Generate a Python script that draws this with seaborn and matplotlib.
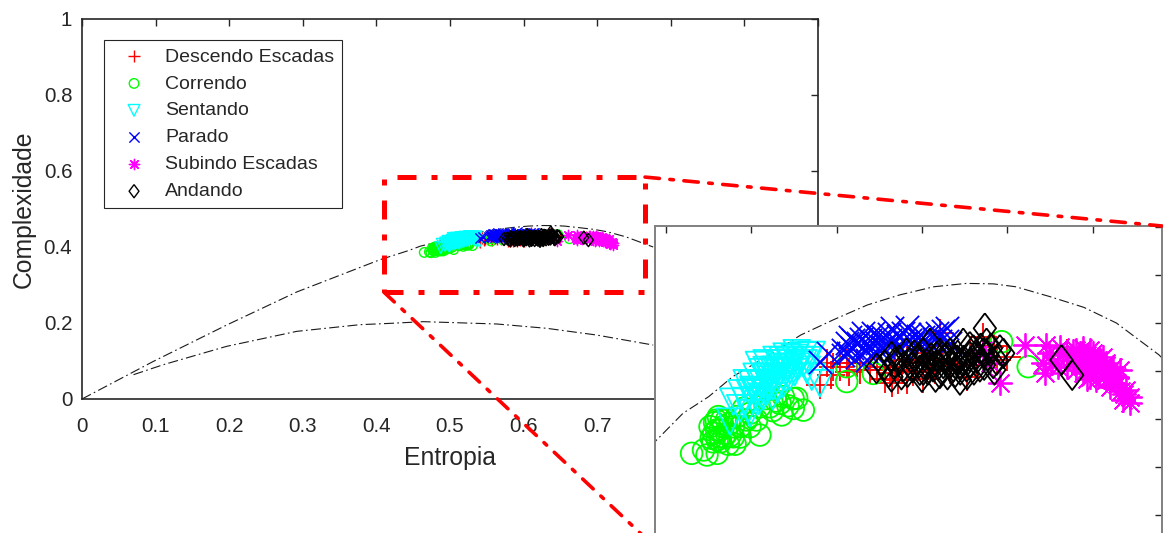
import numpy as np
import seaborn as sns
import matplotlib.pyplot as plt
from matplotlib.patches import Rectangle, ConnectionPatch

# limit curves
upper_x = [0, .097, .1966, .2917, .405, .4436, .46, .475, .489, .509, .529, .548, .568, .587, .607, .626, .642, .655, .675, .695, .714, .739, .776]
upper_y = [0, .099, .1947, .2816, .3667, .3906, .4024, .4093, .4176, .426, .435, .4413, .4475, .4517, .4551, .4565, .4563, .4551, .451, .4465, .44, .4267, .40]
lower_x = [.07, .11, .1966, .2917, .3777, .418, .4638, .5635, .6314, .699, .776]
lower_y = [.064, .09, .1386, .178, .1956, .199, .2035, .1974, .186, .1684, .142]

desc_x = [.5402, .548, .5559, .5617, .5695, .5734, .5822, .5861, .5813, .591, .5969, .6027, .6105, .6281, .6359, .6398, .6496, .6848, .6262, .591, .6164, .6438, .5441, .552,
          .5465, .5575, .5635, .5785, .5845, .5885, .5945, .6005, .6045, .6075, .6125, .6205, .6315, .6425]
desc_y = [.4142, .4218, .4232, .4232, .4204, .4218, .4149, .4163, .419, .4163, .4232, .4274, .4357, .4274, .4343, .4301, .426, .4274, .4176, .4246, .4204, .4246, .4232, .4218,
          .4185, .4195, .4205, .4165, .4215, .4205, .4195, .4165, .4245, .4205, .4305, .4225, .4225, .4305]

corr_x = [.465, .472, .474, .480, .4816, .478, .4855, .480, .4895, .4826, .4807, .4875, .4934, .4992, .505, .4973, .5031, .5178, .5246, .5305, .5266, .5168, .5109, .5188, .505, .5559, .5559, .5715, .6467, .6623, .4758, .4836, .4797, .4816, .4855, .4914, .4895,
          .4785, .4765, .482, .484, .4865, .4875, .4905, .4935, .4775, .4795, .5085, .5125, .5145, .5215, .5245, .4995, .4955]
corr_y = [.3857, .3871, .385, .3857, .3954, .394, .394, .3913, .3926, .3996, .401, .3982, .3968, .3968, .3933, .3996, .3996, .4017, .4044, .4037, .4086, .4065, .4051, .4093, .4051, .4156, .4218, .419, .4322, .4218, .3968, .3968, .3954, .3926, .3996, .401, .3968,
          .3985, .392, .3905, .3925, .3895, .393, .3895, .3925, .3905, .3995, .4085, .4035, .4075, .4055, .4085, .4025, .4045]

sent_x = [.4875, .4992, .4895, .4943, .5012, .5051, .509, .5129, .5168, .5227, .5285, .5354, .507, .5109, .5148, .5188, .5227, .5266, .5012, .4973, .5207, .5266, .5305, .5188, .509, .5402, .5354, .5129, .5051, .5148, .509, .5031, .4992,
          .4935, .4965, .4985, .5005, .503, .5045, .507, .509, .5105, .512, .5145, .5165, .5185, .521, .5235, .5255, .528, .5305, .533, .5325, .5155, .5185, .5125, .5225, .5255, .5065, .5045]
sent_y = [.3989, .4024, .4072, .4107, .4121, .4149, .4176, .4204, .4232, .4246, .4246, .4267, .4093, .4135, .4163, .4176, .4204, .4218, .4079, .4149, .426, .4274, .4232, .4218, .4232, .4149, .4176, .4135, .4107, .4246, .4204, .4176, .4107,
          .4045, .4075, .4045, .4145, .4115, .4075, .4145, .4115, .4175, .4165, .4205, .4195, .4245, .4215, .4235, .4255, .4225, .4265, .4245, .4205, .4125, .4145, .4095, .4175, .4195, .4195, .4225]

par_x = [.5402, .5451, .5559, .5578, .5656, .5695, .5773, .5822, .5891, .593, .6008, .6086, .6145, .6066, .5617, .5676, .5773, .5852, .5969, .6164, .5539, .5656, .5734, .591, .5988, .5598, .5813, .5715,
         .5535, .5565, .559, .5625, .5645, .5675, .5695, .5715, .574, .5755, .579, .5805, .5835, .586, .5875, .59, .5925, .595, .5975, .6, .603, .6045, .607, .6105, .6125, .6145]
par_y = [.4239, .4274, .4315, .4343, .4301, .4329, .4343, .4378, .4357, .4329, .4343, .4357, .4378, .4301, .426, .4246, .4301, .4288, .4301, .4315, .4288, .4357, .4315, .4385, .4329, .4329, .4329, .4357,
         .4265, .4275, .4295, .4315, .4335, .4285, .4305, .4275, .4345, .4285, .4315, .4355, .4315, .4345, .4295, .4315, .4355, .4315, .4345, .4305, .4325, .4355, .4335, .4325, .4365, .4325]

sub_x = [.6457, .6604, .6721, .673, .6809, .6711, .6926, .6984, .7004, .7043, .6945, .7082, .7141, .7102, .716, .7219, .7199, .718, .7219, .7023, .6906, .6984, .7063, .6945, .6848, .6984, .7023, .7121, .6359, .6398, .7082,
         .6885, .6905, .6925, .6945, .6965, .6965, .6985, .7005, .7005, .7025, .7045, .7065, .7065, .7085, .7105, .7125, .7145, .7165, .7185, .6945, .6885, .6825, .6765, .6745, .6795]
sub_y = [.4149, .4308, .419, .4308, .4301, .4232, .4232, .4246, .4274, .4204, .419, .4232, .4176, .4135, .4204, .4093, .4121, .4079, .4065, .4163, .4288, .4288, .426, .426, .4218, .4204, .4232, .4218, .4288, .4232, .4163,
         .4245, .4205, .4275, .4225, .4165, .4265, .4175, .4215, .4255, .4195, .4245, .4175, .4215, .4195, .4165, .4185, .4145, .4115, .4105, .4295, .4285, .4265, .4235, .4275, .4215]

and_x = [.6369, .5734, .5822, .5822, .591, .5891, .6008, .5988, .6027, .6105, .6086, .6223, .6164, .6242, .6281, .634, .6379, .6457, .6438, .6477, .6418, .6359, .6262, .6125, .6184, .5969, .593, .6047, .6203, .6301, .6818, .6881, .6066, .6145, .6223, .6105, .6008, .6281,
         .578, .5805, .584, .5865, .588, .5915, .5945, .5955, .5985, .6, .6035, .6055, .608, .6095, .6115, .6135, .615, .617, .6195, .621, .6225, .6245, .6265, .6285, .6305, .6325, .6345, .6365, .6385, .6405, .6425]
and_y = [.4378, .4211, .4176, .426, .4274, .4218, .4274, .4204, .4232, .419, .426, .4163, .4274, .4315, .426, .4218, .4315, .4288, .4246, .4274, .4232, .4274, .4218, .4232, .4218, .4246, .4232, .4315, .4246, .4288, .4246, .4183, .4218, .426, .4232, .4274, .4204, .4301,
         .4225, .4195, .4235, .4245, .4185, .4195, .4215, .4265, .4235, .4175, .4205, .4255, .4175, .4225, .4205, .4255, .4185, .4235, .4195, .4265, .4205, .4245, .4185, .4235, .4205, .4255, .4295, .4225, .4265, .4295, .4205]

labels = ['Descendo Escadas', 'Correndo', 'Sentando', 'Parado', 'Subindo Escadas', 'Andando']
xticks_main = [0, .1, .2, .3, .4, .5, .6, .7, .8, .9, 1]
xticklabels_main = ['0', '0.1', '0.2', '0.3', '0.4', '0.5', '0.6', '0.7', '0.8', '0.9', '1']
yticks_main = [0, .2, .4, .6, .8, 1]
yticklabels_main = ['0', '0.2', '0.4', '0.6', '0.8', '1']
xticks_zoom = [.45, .5, .55, .6, .65, .7]
yticks_zoom = [.36, .38, .4, .42, .44, .46, .48]

W, H = 1163, 533
sns.set_theme(style="white")
plt.rcParams['font.family'] = ['Liberation Sans', 'DejaVu Sans']
plt.rcParams['text.color'] = '#262626'
plt.rcParams['axes.labelcolor'] = '#262626'

diamond = [(0, 1), (.75, 0), (0, -1), (-.75, 0), (0, 1)]
series = [
    (desc_x, desc_y, '+', '#ff0000', 1.25, False),
    (corr_x, corr_y, 'o', '#00ff00', .76, True),
    (sent_x, sent_y, 'v', '#00ffff', 1.15, True),
    (par_x, par_y, 'x', '#0000ff', .88, False),
    (sub_x, sub_y, (8, 2, 0), '#ff00ff', .88, False),
    (and_x, and_y, diamond, '#000000', 1.45, True),
]


def px_axes(left, top, right, bottom):
    return fig.add_axes([left / W, 1 - bottom / H, (right - left) / W, (bottom - top) / H])


def draw_all(ax, size, lw, legend_labels=None):
    sns.lineplot(x=upper_x, y=upper_y, ax=ax, color='k', lw=.8, sort=False, estimator=None,
                 linestyle=(0, (9, 3, 1.5, 3)), legend=False)
    sns.lineplot(x=lower_x, y=lower_y, ax=ax, color='k', lw=.8, sort=False, estimator=None,
                 linestyle=(0, (9, 3, 1.5, 3)), legend=False)
    for i, (xs, ys, m, c, scale, hollow) in enumerate(series):
        lab = legend_labels[i] if legend_labels else None
        sns.scatterplot(x=xs, y=ys, ax=ax, marker=m, s=size * scale, color='none' if hollow else c,
                        edgecolor=c, linewidth=lw, label=lab, legend=False, zorder=3 + i)


fig = plt.figure(figsize=(W / 100, H / 100), dpi=100)

ax = px_axes(82, 19, 818, 399)
draw_all(ax, 62, 1.0, labels)
ax.set_xlim(0, 1)
ax.set_ylim(0, 1)
ax.set_xticks(xticks_main, xticklabels_main)
ax.set_yticks(yticks_main, yticklabels_main)
ax.tick_params(direction='in', length=5, width=1, top=True, right=True, labelsize=14.8,
               labelcolor='#262626', color='#262626')
ax.tick_params(axis='x', pad=13)
ax.tick_params(axis='y', pad=7)
for s in ax.spines.values():
    s.set_linewidth(1.2)
    s.set_color('#262626')
ax.set_xlabel('Entropia', fontsize=17.8, labelpad=7)
ax.set_ylabel('Complexidade', fontsize=17.8, labelpad=6)

leg = ax.legend(loc='upper left', bbox_to_anchor=(22 / 736, 1 - 21 / 380), borderaxespad=0, frameon=True,
                fancybox=False, edgecolor='#262626', framealpha=1, fontsize=14, labelspacing=.48,
                handletextpad=.46, borderpad=.41, handlelength=2.27)
leg.get_frame().set_linewidth(.8)

# zoom box on the main axes
zx0, zx1, zy0, zy1 = .41, .765, .2816, .584
ax.add_patch(Rectangle((zx0, zy0), zx1 - zx0, zy1 - zy0, fill=False, ec='#ff0000', lw=3.6,
                       linestyle=(0, (3.8, 3, 1.2, 3)), zorder=10))

axz = px_axes(655, 226, 1162, 547)
axz.patch.set_facecolor('white')
draw_all(axz, 320, 1.3)
axz.set_xlim(.45 + (655 - 666) / 1706, .45 + (1162 - 666) / 1706)
axz.set_ylim(.46 - (547 - 275) / 2400, .46 - (226 - 275) / 2400)
axz.set_xticks(xticks_zoom, [''] * len(xticks_zoom))
axz.set_yticks(yticks_zoom, [''] * len(yticks_zoom))
axz.tick_params(direction='in', length=5, width=1, top=True, right=True, color='#262626')
for s in axz.spines.values():
    s.set_linewidth(1.4)
    s.set_color('#808080')

for xyA, xyB in [((zx1, zy1), (1, 1)), ((zx0, zy0), (0, 0))]:
    fig.add_artist(ConnectionPatch(xyA=xyA, coordsA=ax.transData, xyB=xyB, coordsB=axz.transAxes,
                                   color='#ff0000', lw=2.6, linestyle=(0, (4, 2.9, 1, 2.9))))

plt.savefig('out.png', dpi=100)
